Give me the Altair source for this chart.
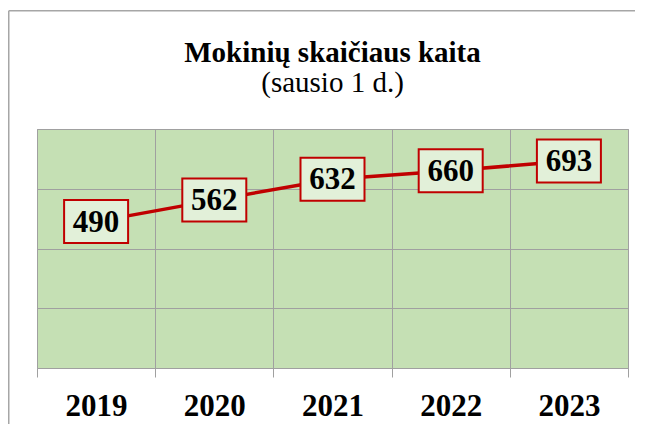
import altair as alt
import pandas as pd

years = ["2019", "2020", "2021", "2022", "2023"]
students = [490, 562, 632, 660, 693]
y_ticks = [0, 200, 400, 600, 800]

df = pd.DataFrame({"year": years, "students": students})

GREEN = "#C5E0B4"
BOX = "#E2F0D9"
RED = "#C00000"
GRID = "#A0A0A0"
FONT = "Liberation Serif"

x = alt.X(
    "year:N",
    sort=years,
    scale=alt.Scale(paddingInner=0, paddingOuter=0),
    axis=alt.Axis(
        title=None, labelAngle=0, tickBand="extent", grid=True,
        gridColor=GRID, gridWidth=1, ticks=True, tickColor=GRID,
        tickSize=9, tickWidth=1, domain=False, labelFont=FONT,
        labelFontSize=31, labelFontWeight="bold", labelColor="black",
        labelPadding=14,
    ),
)
y = alt.Y(
    "students:Q",
    scale=alt.Scale(domain=[0, 800], nice=False, zero=True),
    axis=alt.Axis(
        title=None, values=y_ticks, labels=False, ticks=False,
        domain=False, grid=True, gridColor=GRID, gridWidth=1,
    ),
)

base = alt.Chart(df).encode(x=x, y=y)

line = base.mark_line(color=RED, strokeWidth=3.5)
boxes = base.mark_point(
    shape="M-1,-0.672L1,-0.672L1,0.672L-1,0.672Z",
    size=4096, filled=True, fill=BOX, stroke=RED, strokeWidth=2,
    opacity=1, fillOpacity=1, strokeOpacity=1,
)
labels = base.mark_text(
    font=FONT, fontSize=31, fontWeight="bold", color="black",
    baseline="middle", dy=1,
).encode(text="students:Q")

# decorative chart frame (top and left edges)
frame_src = pd.DataFrame({"f": [0]})
frame_top = alt.Chart(frame_src).mark_rule(
    stroke="#A6A6A6", strokeWidth=1.5
).encode(
    x=alt.value(-28.25), x2=alt.value(598),
    y=alt.value(-118.3), y2=alt.value(-118.3),
)
frame_left = alt.Chart(frame_src).mark_rule(
    stroke="#A6A6A6", strokeWidth=1.5
).encode(
    x=alt.value(-28.25), x2=alt.value(-28.25),
    y=alt.value(-118.3), y2=alt.value(295),
)

chart = alt.layer(frame_top, frame_left, line, boxes, labels).properties(
    width=591,
    height=239,
    autosize=alt.AutoSizeParams(type="none"),
    padding={"left": 29, "top": 121, "right": 7, "bottom": 56},
    background="white",
    title=alt.TitleParams(
        text="Mokinių skaičiaus kaita",
        subtitle="(sausio 1 d.)",
        anchor="middle", frame="group",
        font=FONT, fontSize=29, fontWeight="bold", color="black",
        subtitleFont=FONT, subtitleFontSize=29, subtitleFontWeight="normal",
        subtitleColor="black", subtitlePadding=1, offset=-88,
    ),
).configure_view(fill=GREEN, stroke=GRID, strokeWidth=1)

chart.save("out.html", embed_options={"renderer": "svg", "actions": False})
